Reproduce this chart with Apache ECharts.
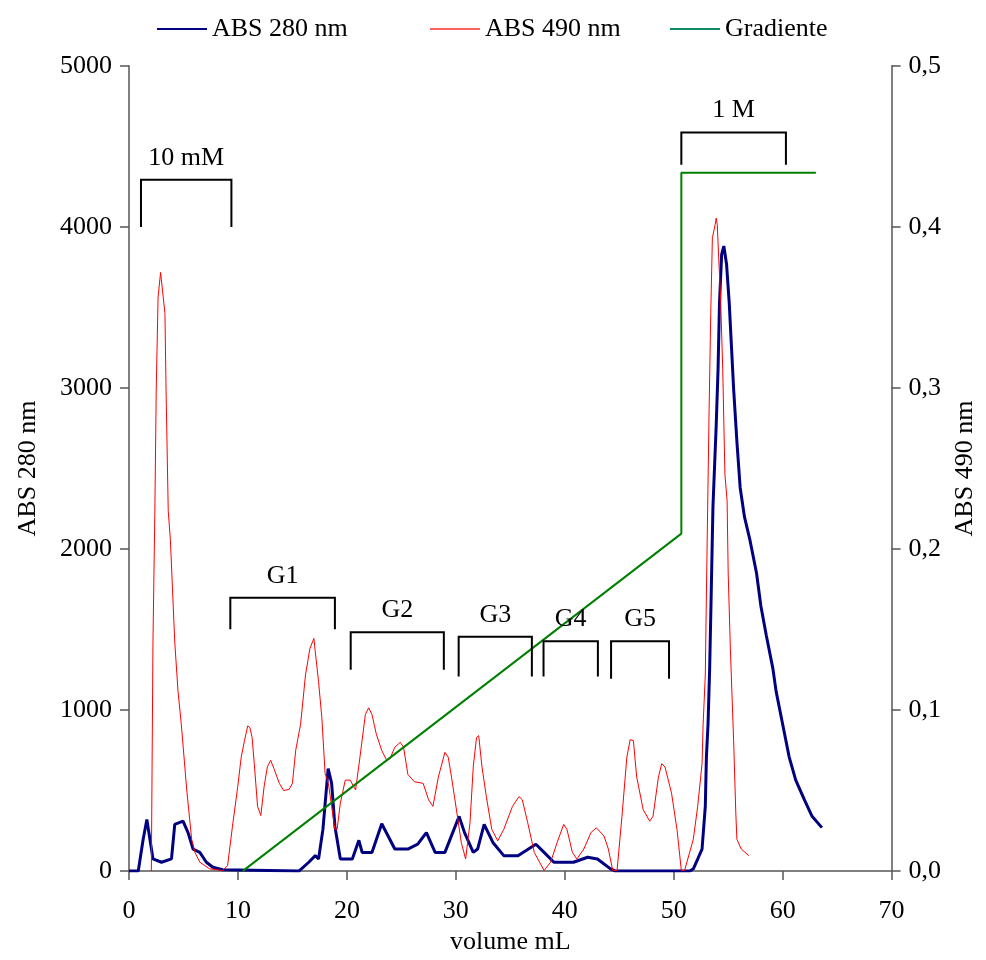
<!DOCTYPE html>
<html>
<head>
<meta charset="utf-8">
<script src="https://cdn.jsdelivr.net/npm/echarts@6/dist/echarts.min.js"></script>
<style>
html,body{margin:0;padding:0;background:#fff;}
#chart{width:986px;height:960px;}
</style>
</head>
<body>
<div id="chart"></div>
<script>
// ABS 280 nm (left axis)
const abs280X = [0, 0.85, 1.3, 1.64, 1.92, 2.2, 2.98, 3.9, 4.2, 4.96, 5.42, 5.88, 6.5, 7.1, 7.7, 8.6, 15.6, 16.5, 17.1, 17.4, 17.8, 18.28, 18.6, 18.9, 19.4, 20.5, 21.1, 21.4, 22.3, 23.2, 24.4, 25.6, 26.5, 27.3, 28.1, 29.0, 30.3, 30.8, 31.6, 32.0, 32.6, 33.4, 34.4, 35.7, 37.35, 38.1, 39.0, 40.8, 42.1, 43.0, 44.2, 44.65, 51.5, 51.8, 52.2, 52.6, 52.9, 53.0, 53.15, 53.3, 53.45, 53.6, 53.9, 54.07, 54.2, 54.4, 54.6, 54.85, 55.1, 55.3, 55.5, 55.8, 56.1, 56.5, 57.0, 57.6, 58.0, 58.5, 59.1, 59.4, 60.0, 60.6, 61.2, 62.0, 62.7, 63.6];
const abs280Y = [0, 0, 198, 320, 198, 76, 55, 76, 290, 310, 239, 137, 116, 55, 24, 8, 0, 55, 96, 75, 259, 637, 545, 279, 75, 75, 191, 116, 116, 294, 137, 137, 167, 239, 116, 116, 340, 239, 116, 137, 290, 178, 96, 96, 167, 116, 55, 55, 86, 75, 14, 0, 0, 14, 75, 137, 402, 708, 912, 1259, 1749, 2259, 2769, 3116, 3524, 3830, 3882, 3769, 3524, 3259, 2994, 2667, 2381, 2198, 2055, 1851, 1647, 1463, 1259, 1116, 912, 708, 565, 443, 340, 270];

// ABS 490 nm (right axis)
const abs490X = [2.05, 2.2, 2.37, 2.5, 2.67, 2.9, 3.04, 3.3, 3.4, 3.6, 3.8, 4.2, 4.5, 4.8, 5.3, 5.75, 6.05, 6.5, 7.4, 8.6, 9.05, 9.5, 9.98, 10.3, 10.6, 10.9, 11.1, 11.3, 11.5, 11.8, 12.1, 12.4, 12.7, 13.0, 13.3, 13.8, 14.2, 14.7, 15.0, 15.3, 15.75, 16.2, 16.6, 16.97, 17.1, 17.4, 17.7, 18.0, 18.3, 18.6, 18.9, 19.1, 19.4, 19.85, 20.3, 20.8, 21.2, 21.7, 22.0, 22.3, 22.7, 23.2, 23.65, 23.95, 24.4, 24.9, 25.2, 25.6, 26.2, 27.0, 27.5, 27.9, 28.4, 29.0, 29.3, 29.6, 30.1, 30.5, 30.9, 31.3, 31.6, 31.9, 32.1, 32.4, 32.8, 33.3, 33.85, 34.4, 35.2, 35.8, 36.1, 36.6, 37.2, 38.1, 38.7, 39.3, 39.9, 40.2, 40.7, 41.1, 41.75, 42.4, 42.9, 43.6, 44.0, 44.4, 44.8, 45.25, 45.7, 46.0, 46.3, 46.6, 47.2, 47.8, 48.1, 48.6, 48.9, 49.2, 49.8, 50.3, 50.7, 51.0, 51.8, 52.2, 52.6, 52.7, 52.9, 53.05, 53.25, 53.4, 53.55, 53.8, 53.9, 54.0, 54.1, 54.3, 54.5, 54.7, 54.9, 55.0, 55.2, 55.5, 55.7, 55.8, 56.2, 56.9];
const abs490Y = [0, 0.1422, 0.2219, 0.2994, 0.3565, 0.3718, 0.3708, 0.3463, 0.2994, 0.2238, 0.2055, 0.1422, 0.1116, 0.0912, 0.0504, 0.0198, 0.0116, 0.0055, 0.0014, 0.0004, 0.0034, 0.0279, 0.0524, 0.0708, 0.0810, 0.0902, 0.0891, 0.0830, 0.0667, 0.0402, 0.0345, 0.0524, 0.0647, 0.0688, 0.0637, 0.0545, 0.0500, 0.0508, 0.0545, 0.0749, 0.0912, 0.1218, 0.1381, 0.1445, 0.1361, 0.1177, 0.0953, 0.0606, 0.0545, 0.0402, 0.0259, 0.0259, 0.0422, 0.0565, 0.0565, 0.0504, 0.0708, 0.0973, 0.1014, 0.0973, 0.0851, 0.0749, 0.0688, 0.0698, 0.0769, 0.0800, 0.0769, 0.0600, 0.0555, 0.0545, 0.0443, 0.0402, 0.0585, 0.0738, 0.0708, 0.0585, 0.0361, 0.0178, 0.0075, 0.0300, 0.0647, 0.0830, 0.0841, 0.0647, 0.0463, 0.0259, 0.0188, 0.0259, 0.0402, 0.0463, 0.0443, 0.0300, 0.0116, 0.0004, 0.0055, 0.0178, 0.0290, 0.0259, 0.0116, 0.0075, 0.0137, 0.0239, 0.0269, 0.0218, 0.0137, 0.0004, 0.0004, 0.0340, 0.0708, 0.0816, 0.0810, 0.0585, 0.0381, 0.0310, 0.0340, 0.0585, 0.0667, 0.0647, 0.0484, 0.0259, 0.0004, 0.0004, 0.0198, 0.0402, 0.0667, 0.0912, 0.1218, 0.1953, 0.2871, 0.3463, 0.3933, 0.4014, 0.4055, 0.4014, 0.3851, 0.3565, 0.3116, 0.2463, 0.2300, 0.1851, 0.1380, 0.0810, 0.0361, 0.0198, 0.0137, 0.0096];

// Gradiente (drawn on left axis scale)
const gradX = [10.43, 50.7, 50.7, 63.05];
const gradY = [0, 2096, 4337, 4337];

// Bracket annotations (left axis scale)
const bracketLabels = ['10 mM', '1 M', 'G1', 'G2', 'G3', 'G4', 'G5'];
const bracketStart = [1.1, 50.7, 9.3, 20.35, 30.26, 38.05, 44.25];
const bracketEnd = [9.4, 60.3, 18.9, 28.9, 36.98, 43.04, 49.57];
const bracketTop = [4294, 4587, 1698, 1483, 1455, 1427, 1427];
const bracketBottom = [4000, 4386, 1502, 1250, 1208, 1208, 1194];

// Axis ticks
const xTicks = [0, 10, 20, 30, 40, 50, 60, 70];
const leftTicks = ['0', '1000', '2000', '3000', '4000', '5000'];
const rightTicks = ['0,0', '0,1', '0,2', '0,3', '0,4', '0,5'];

const FONT = '"Liberation Serif", "Times New Roman", serif';
const FS = 26;

const zip = (xs, ys) => xs.map((x, i) => [x, ys[i]]);
const bracketData = bracketStart.map((s, i) => [s, bracketEnd[i], bracketTop[i], bracketBottom[i]]);

const chart = echarts.init(document.getElementById('chart'), null, {renderer: 'canvas'});
const axisCommon = {
  axisLine: {show: true, lineStyle: {color: '#808080', width: 2}},
  axisTick: {show: true, inside: false, length: 9, lineStyle: {color: '#555', width: 1.5}},
  splitLine: {show: false},
  axisLabel: {color: '#000', fontFamily: FONT, fontSize: FS},
  nameTextStyle: {color: '#000', fontFamily: FONT, fontSize: FS}
};
const legendText = {color: '#000', fontFamily: FONT, fontSize: FS};
const legendCommon = {top: 11, itemWidth: 50, itemHeight: 14, itemGap: 8, textStyle: legendText, icon: 'path://M0,6 L50,6 L50,8 L0,8 Z'};

chart.setOption({
  animation: false,
  backgroundColor: '#fff',
  grid: {left: 129, right: 91, top: 66, bottom: 78, containLabel: false},
  legend: [
    Object.assign({}, legendCommon, {left: 152, data: ['ABS 280 nm']}),
    Object.assign({}, legendCommon, {left: 425, data: ['ABS 490 nm']}),
    Object.assign({}, legendCommon, {left: 665, data: ['Gradiente']})
  ],
  xAxis: Object.assign({}, axisCommon, {
    type: 'value', min: xTicks[0], max: xTicks[xTicks.length - 1], interval: 10,
    name: 'volume mL', nameLocation: 'middle', nameGap: 50,
    axisLabel: Object.assign({}, axisCommon.axisLabel, {margin: 27, formatter: (v) => String(v)})
  }),
  yAxis: [
    Object.assign({}, axisCommon, {
      type: 'value', position: 'left', min: 0, max: 5000, interval: 1000,
      name: 'ABS 280 nm', nameLocation: 'middle', nameGap: 88, nameRotate: 90,
      axisLabel: Object.assign({}, axisCommon.axisLabel, {margin: 17,
        formatter: (v) => leftTicks[Math.round(v / 1000)]})
    }),
    Object.assign({}, axisCommon, {
      type: 'value', position: 'right', min: 0, max: 0.5, interval: 0.1,
      name: 'ABS 490 nm', nameLocation: 'middle', nameGap: 60, nameRotate: 90,
      axisLabel: Object.assign({}, axisCommon.axisLabel, {margin: 17,
        formatter: (v) => rightTicks[Math.round(v * 10)]})
    })
  ],
  series: [
    {
      name: 'ABS 280 nm', type: 'line', yAxisIndex: 0, data: zip(abs280X, abs280Y),
      symbol: 'none', showSymbol: false, lineStyle: {color: '#000080', width: 3}, itemStyle: {color: '#000080'}, z: 3
    },
    {
      name: 'ABS 490 nm', type: 'line', yAxisIndex: 1, data: zip(abs490X, abs490Y),
      symbol: 'none', showSymbol: false, lineStyle: {color: '#ff0000', width: 1}, itemStyle: {color: '#ff6060'}, z: 4
    },
    {
      name: 'Gradiente', type: 'line', yAxisIndex: 0, data: zip(gradX, gradY),
      symbol: 'none', showSymbol: false, lineStyle: {color: '#008000', width: 2}, itemStyle: {color: '#108a60'}, z: 5
    },
    {
      name: 'brackets', type: 'custom', yAxisIndex: 0, data: bracketData,
      encode: {x: [0, 1], y: [2, 3]}, clip: false, z: 6, silent: true,
      renderItem: function (params, api) {
        const x1 = api.value(0), x2 = api.value(1), yt = api.value(2), yb = api.value(3);
        const p1 = api.coord([x1, yb]), p2 = api.coord([x1, yt]), p3 = api.coord([x2, yt]), p4 = api.coord([x2, yb]);
        return {
          type: 'group',
          children: [
            {type: 'polyline', shape: {points: [p1, p2, p3, p4]}, style: {stroke: '#000', lineWidth: 2, fill: null}},
            {type: 'text', style: {text: bracketLabels[params.dataIndex], x: (p2[0] + p3[0]) / 2, y: p2[1] - 9,
              textAlign: 'center', textVerticalAlign: 'bottom', font: FS + 'px ' + FONT, fill: '#000'}}
          ]
        };
      }
    }
  ]
});
</script>
</body>
</html>
